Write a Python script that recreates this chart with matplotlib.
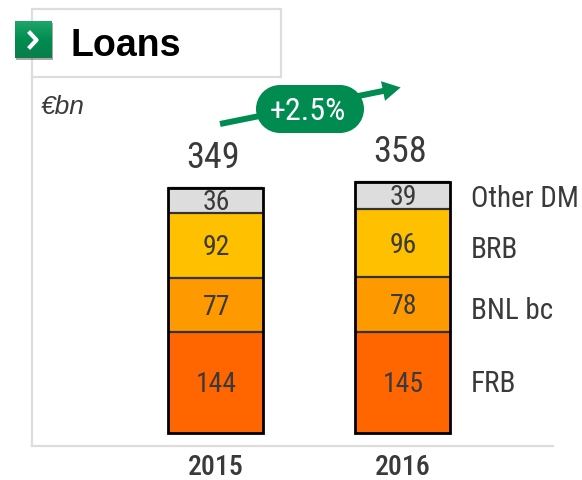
import matplotlib
matplotlib.use('Agg')
import matplotlib.pyplot as plt
from matplotlib import font_manager as fm
from matplotlib.patches import Ellipse, FancyArrow, Rectangle
import numpy as np

years = ['2015', '2016']
segments = ['FRB', 'BNL bc', 'BRB', 'Other DM']
frb = [144, 145]
bnl = [77, 78]
brb = [92, 96]
other = [36, 39]
totals = [349, 358]
growth = '+2.5%'
colors = ['#FF6600', '#FF9900', '#FFC000', '#DDDDDD']

names = {f.name for f in fm.fontManager.ttflist}
narrow = next((n for n in ['Roboto Condensed', 'Archivo Narrow', 'Barlow Condensed', 'DejaVu Sans']
               if n in names))
dark = '#3A3A3A'

fig = plt.figure(figsize=(5.82, 4.80), dpi=100)

# axes zone in pixels: x 32-553, y 78-446
ax = fig.add_axes([32/582, 1 - 446/480, (553-32)/582, (446-78)/480])
ax.set_xlim(-0.981, 1.805)
ax.set_ylim(-17.8, 505.7)
ax.patch.set_alpha(0)
for s in ['top', 'right']:
    ax.spines[s].set_visible(False)
ax.spines['left'].set_color('#DDDDDD')
ax.spines['bottom'].set_color('#DDDDDD')
ax.spines['left'].set_linewidth(1.6)
ax.spines['bottom'].set_linewidth(1.6)
ax.set_yticks([])
ax.set_xticks([0, 1])
ax.set_xticklabels(years, fontsize=20, color=dark, family=narrow, fontweight='medium')
ax.tick_params(axis='x', length=0, pad=6)

x = np.arange(len(years))
bottom = np.zeros(2)
series = [frb, bnl, brb, other]
for vals, c in zip(series, colors):
    ax.bar(x, vals, 0.508, bottom=bottom, color=c, edgecolor='none', zorder=2)
    for i, v in enumerate(vals):
        ax.text(i + 0.005, bottom[i] + v/2 - 3, str(v), ha='center', va='center', fontsize=20,
                color=dark, family=narrow, zorder=4)
    bottom = bottom + np.array(vals)
    # separators between the stacks
    ax.hlines(bottom, x - 0.254, x + 0.254, color='#333333', lw=1.6, zorder=3)

# black outline round each stack
ax.bar(x, totals, 0.508, color='none', edgecolor='black', linewidth=2, zorder=3)

for i, t in enumerate(totals):
    ax.text(i - 0.015, t + 17.5, str(t), ha='center', va='bottom', fontsize=26, color=dark, family=narrow)

for name, ybase in zip(segments, [70, 174, 261, 334]):
    ax.text(1.365, ybase, name, ha='left', va='center', fontsize=21, color=dark, family=narrow)

# decorations in pixel coordinates
deco = fig.add_axes([0, 0, 1, 1])
deco.set_xlim(0, 582)
deco.set_ylim(480, 0)
deco.axis('off')
deco.add_patch(Rectangle((32, 9), 249, 68, fc='white', ec='#DDDDDD', lw=1.6, zorder=1))
deco.add_patch(Rectangle((16, 23), 37, 37, fc='#555555', ec='none', alpha=0.5, zorder=2))
deco.imshow(np.linspace(0, 1, 40).reshape(-1, 1), extent=(15, 52, 58, 21), aspect='auto',
            cmap=matplotlib.colors.LinearSegmentedColormap.from_list('g', ['#1FA56A', '#008C50', '#0A7F4B']), zorder=3)
deco.set_xlim(0, 582)
deco.set_ylim(480, 0)
deco.plot([30, 36.5, 30], [33, 40, 47], color='white', lw=3, zorder=4)
deco.text(70.5, 46, 'Loans', fontsize=27, fontweight='bold', family='Liberation Sans',
          color='black', ha='left', va='center', zorder=4)
deco.text(41, 107, '€bn', fontsize=19, style='italic', family='Liberation Sans',
          color=dark, ha='left', va='center')

deco.add_patch(FancyArrow(220, 124, 163, -33, width=6, head_width=20, head_length=18,
                          length_includes_head=False, color='#008C50', lw=0, zorder=3))
deco.add_patch(Rectangle((280, 85), 60, 48, fc='#008C50', ec='none', zorder=4))
for cx in (280, 340):
    deco.add_patch(Ellipse((cx, 109), 48, 48, fc='#008C50', ec='none', zorder=4))
deco.text(308, 112, growth, fontsize=23, color='white', family=narrow, ha='center', va='center', zorder=5)

fig.savefig('out.png', dpi=100)
